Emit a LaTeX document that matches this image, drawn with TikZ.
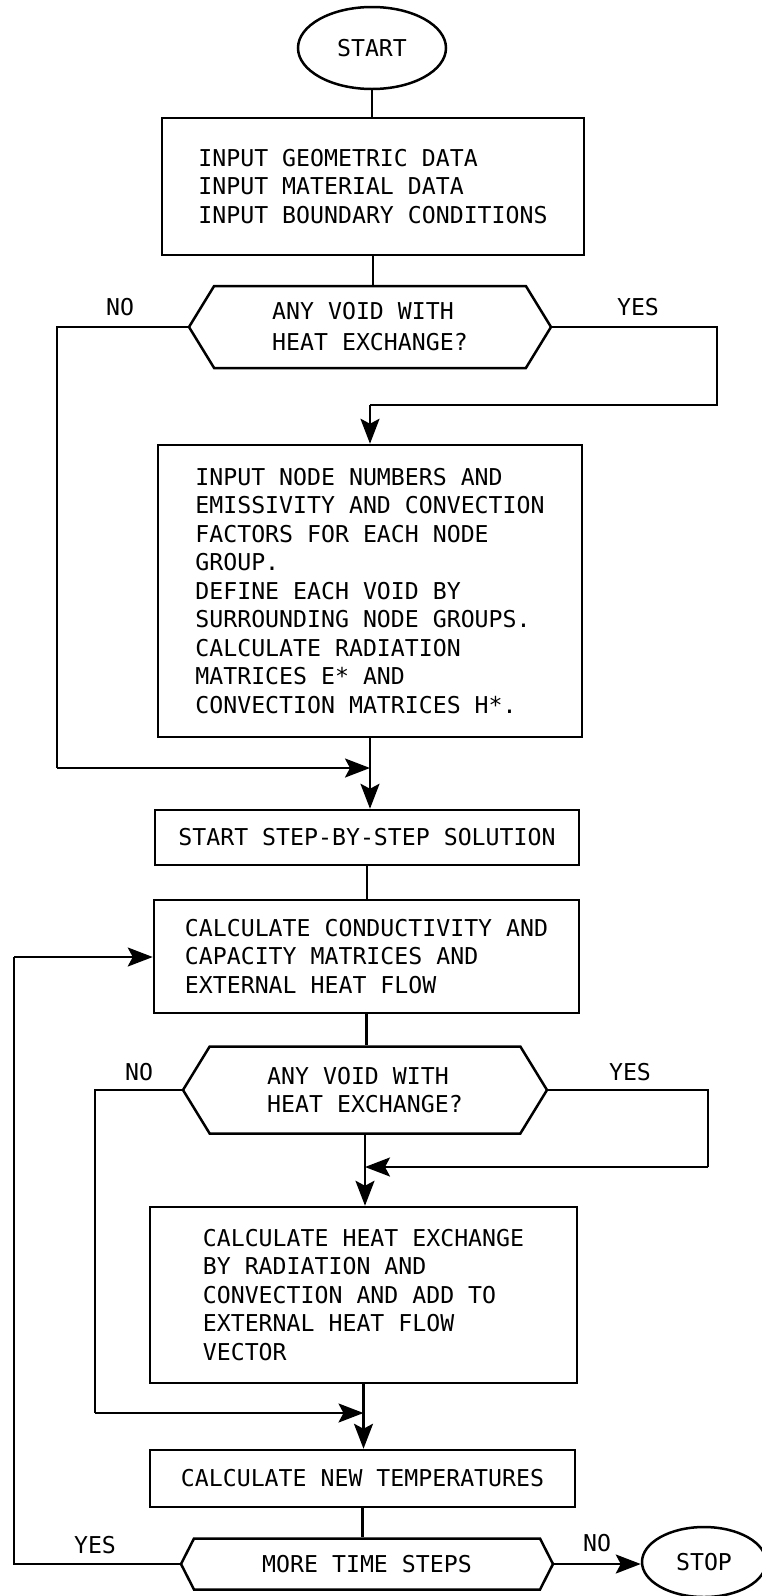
\documentclass[tikz,border=0pt]{standalone}
\usepackage{fontspec}
\newfontfamily\flowfont{DejaVu Sans Mono}
\usetikzlibrary{shapes.geometric,shapes.symbols,arrows.meta,calc}
\begin{document}
\begin{tikzpicture}[x=1pt,y=-1pt,
  every node/.style={font=\flowfont\fontsize{23.2}{28.5}\selectfont, inner sep=0pt},
  proc/.style={draw, line width=2.5pt, align=left},
  dec/.style={draw, line width=2.5pt, signal, signal to=west and east, signal pointer angle=117, align=left},
  term/.style={draw, line width=2.5pt, ellipse},
  flow/.style={line width=2.5pt},
  arr/.style={flow, -{Stealth[length=25pt,width=19pt,inset=5pt]}}
]
\useasboundingbox (0,0) rectangle (761,1596);

\node[term, minimum width=148, minimum height=82] (start) at (372,48) {START};
\node[proc, minimum width=422, minimum height=137] (box1) at (373,186.5) {INPUT GEOMETRIC DATA\\INPUT MATERIAL DATA\\INPUT BOUNDARY CONDITIONS};
\node[dec, minimum width=362, minimum height=82, font=\flowfont\fontsize{23.2}{31}\selectfont] (hex1) at (370,327) {ANY VOID WITH\\HEAT EXCHANGE?};
\node[proc, minimum width=424, minimum height=292] (box2) at (370,591) {INPUT NODE NUMBERS AND\\EMISSIVITY AND CONVECTION\\FACTORS FOR EACH NODE\\GROUP.\\DEFINE EACH VOID BY\\SURROUNDING NODE GROUPS.\\CALCULATE RADIATION\\MATRICES E* AND\\CONVECTION MATRICES H*.};
\node[proc, minimum width=424, minimum height=55] (box3) at (367,837.5) {START STEP-BY-STEP SOLUTION};
\node[proc, minimum width=425, minimum height=113] (box4) at (366.5,956.5) {CALCULATE CONDUCTIVITY AND\\CAPACITY MATRICES AND\\EXTERNAL HEAT FLOW};
\node[dec, minimum width=364, minimum height=87] (hex2) at (365,1090) {ANY VOID WITH\\HEAT EXCHANGE?};
\node[proc, minimum width=427, minimum height=176] (box5) at (363.5,1295) {CALCULATE HEAT EXCHANGE\\BY RADIATION AND\\CONVECTION AND ADD TO\\EXTERNAL HEAT FLOW\\VECTOR};
\node[proc, minimum width=425, minimum height=57] (box6) at (362.5,1478.5) {CALCULATE NEW TEMPERATURES};
\node[dec, signal pointer angle=126, minimum width=372, minimum height=51] (hex3) at (367,1564) {MORE TIME STEPS};
\node[term, minimum width=124, minimum height=70] (stop) at (704,1562) {STOP};

\node (no1) at (120,307) {NO};
\node (yes1) at (638,307) {YES};
\node (no2) at (139,1072) {NO};
\node (yes2) at (630,1072) {YES};
\node (yes3) at (95,1545) {YES};
\node (no3) at (597,1543) {NO};

\coordinate (l1) at (57,327);
\coordinate (l1b) at (57,768);
\coordinate (r1) at (717,327);
\coordinate (r1b) at (717,405);
\coordinate (l2) at (95,1090);
\coordinate (l2b) at (95,1413);
\coordinate (r2) at (708,1090);
\coordinate (r2b) at (708,1167);
\coordinate (lp) at (14,1564);
\coordinate (lpb) at (14,957);

\draw[flow] (start.south) -- (start.south |- box1.north);
\draw[flow] (box1.south) -- (box1.south |- hex1.north);
\draw[flow] (hex1.west) -- (l1) -- (l1b);
\draw[arr] (l1b) -- (box2.south |- l1b);
\draw[flow] (hex1.east) -- (r1) -- (r1b) -- (box2.north |- r1b);
\draw[arr] (box2.north |- r1b) -- (box2.north);
\draw[arr] (box2.south) -- (box2.south |- box3.north);
\draw[flow] (box3.south) -- (box3.south |- box4.north);
\draw[flow] (box4.south) -- (box4.south |- hex2.north);
\draw[flow] (hex2.west) -- (l2) -- (l2b);
\draw[arr] (l2b) -- (box5.south |- l2b);
\draw[flow] (hex2.east) -- (r2) -- (r2b);
\draw[arr] (r2b) -- (hex2.south |- r2b);
\draw[arr] (hex2.south) -- (hex2.south |- box5.north);
\draw[arr] (box5.south) -- (box5.south |- box6.north);
\draw[flow] (box6.south) -- (box6.south |- hex3.north);
\draw[flow] (hex3.west) -- (lp) -- (lpb);
\draw[arr] (lpb) -- (box4.west |- lpb);
\draw[arr] (hex3.east) -- (stop.west |- hex3.east);
\end{tikzpicture}
\end{document}
